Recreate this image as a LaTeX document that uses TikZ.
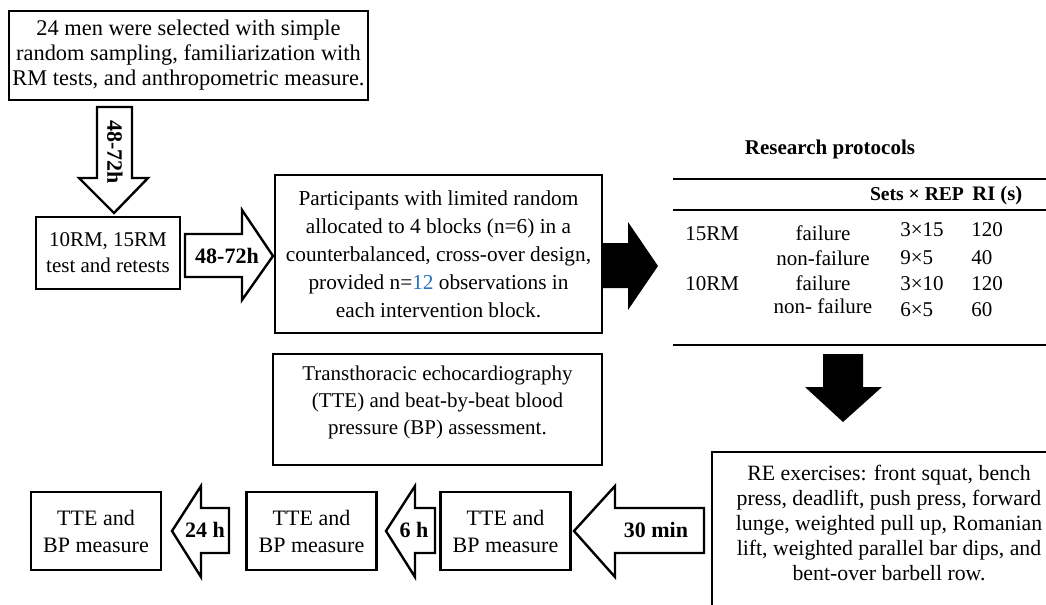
\documentclass[tikz,border=0pt]{standalone}
\usepackage{fontspec}
\setmainfont{Liberation Serif}
\definecolor{obsblue}{RGB}{38,112,190}
\tikzset{
  box/.style={draw, line width=1.3pt, align=center, inner sep=0pt, font=\fontsize{10.5}{13}\selectfont},
  hollow/.style={draw, fill=white, line width=1.2pt, line join=miter},
  filled/.style={fill=black},
  tag/.style={font=\bfseries\fontsize{11}{13}\selectfont, inner sep=0pt},
  cell/.style={font=\fontsize{10.5}{12}\selectfont, inner sep=0pt},
  rule/.style={line width=1pt},
}
\begin{document}
\begin{tikzpicture}[x=0.5pt, y=-0.5pt]
  \useasboundingbox (0,0) rectangle (1046,605);
  \clip (0,0) rectangle (1046,605);
  % boxes
  \node[box, minimum width=179.5pt, minimum height=44.5pt, font=\fontsize{11.2}{12.5}\selectfont] (select) at (188.5,55.5)
    {24 men were selected with simple\\random sampling, familiarization with\\RM tests, and anthropometric measure.};
  \node[box, minimum width=72pt, minimum height=36pt] (rmtest) at (108,253) {10RM, 15RM\\test and retests};
  \node[box, minimum width=163.5pt, minimum height=79pt, font=\fontsize{10.65}{14}\selectfont] (alloc) at (438.5,254)
    {Participants with limited random\\allocated to 4 blocks (n=6) in a\\counterbalanced, cross-over design,\\provided n=\textcolor{obsblue}{12} observations in\\each intervention block.};
  \node[box, minimum width=164.5pt, minimum height=55.5pt] (tte) at (437.5,409.5) {};
  \node[cell, align=center, font=\fontsize{10.5}{13.5}\selectfont] (ttetext) at (437.5,402)
    {Transthoracic echocardiography\\(TTE) and beat-by-beat blood\\pressure (BP) assessment.};
  \node[box, minimum width=179pt, minimum height=94pt] (re) at (891,546) {};
  \node[cell, align=center, font=\fontsize{10.9}{12.6}\selectfont] (retext) at (889,523)
    {RE exercises: front squat, bench\\press, deadlift, push press, forward\\lunge, weighted pull up, Romanian\\lift, weighted parallel bar dips, and\\bent-over barbell row.};
  \foreach \cx/\nm in {96/measA, 311.5/measB, 505.5/measC}
    \node[box, minimum width=65pt, minimum height=39pt, font=\fontsize{11}{13.5}\selectfont] (\nm) at (\cx,531) {TTE and\\BP measure};
  % block arrows
  \draw[hollow] (97,107) -- (132,107) -- (132,178) -- (148,178) -- (114,213) -- (79,178) -- (97,178) -- cycle;
  \node[tag, rotate=-90] (gapdown) at (115,152) {48-72h};
  \draw[hollow] (185,234) -- (242,234) -- (242,210) -- (273,256) -- (242,300) -- (242,277) -- (185,277) -- cycle;
  \node[tag] (gapright) at (227,256) {48-72h};
  \fill[filled] (602,243) -- (628,243) -- (628,222) -- (658,266) -- (628,310) -- (628,288) -- (602,288) -- cycle;
  \fill[filled] (823,354) -- (863,354) -- (863,387) -- (882,387) -- (843,422) -- (805,387) -- (823,387) -- cycle;
  \foreach \tip/\base/\tail/\mid/\nm/\txt in {172/201/229/205/gap24/24 h, 386/415/435/414/gap6/6 h, 574/615/704/656/gap30/30 min} {
    \draw[hollow] (\tail,508) -- (\base,508) -- (\base,486) -- (\tip,531) -- (\base,577) -- (\base,553) -- (\tail,553) -- cycle;
    \node[tag] (\nm) at (\mid,530) {\txt};
  }
  % protocol table
  \node[tag, anchor=base, font=\bfseries\fontsize{10.5}{12}\selectfont] (prot) at (830,155) {Research protocols};
  \draw[rule] (673,179) -- (1046,179);
  \draw[rule] (673,210) -- (1046,210);
  \draw[rule] (673,345) -- (1046,345);
  \node[tag, anchor=base, font=\bfseries\fontsize{9.8}{12}\selectfont] (sets) at (917,200) {Sets × REP};
  \node[tag, anchor=base west, font=\bfseries\fontsize{10.3}{12}\selectfont] (ri) at (972,200) {RI (s)};
  \node[cell, anchor=base west] (rm15) at (685,240) {15RM};
  \node[cell, anchor=base west] (rm10) at (685,290) {10RM};
  \foreach \ya/\yb/\mode/\sr/\rest [count=\k] in {240/236/failure/3×15/120, 265/264/non-failure/9×5/40,
      290/290/failure/3×10/120, 313/316/non- failure/6×5/60} {
    \node[cell, anchor=base] (mode\k) at (823,\ya) {\mode};
    \node[cell, anchor=base west] (sr\k) at (900,\yb) {\sr};
    \node[cell, anchor=base west] (ri\k) at (971,\yb) {\rest};
  }
\end{tikzpicture}
\end{document}
